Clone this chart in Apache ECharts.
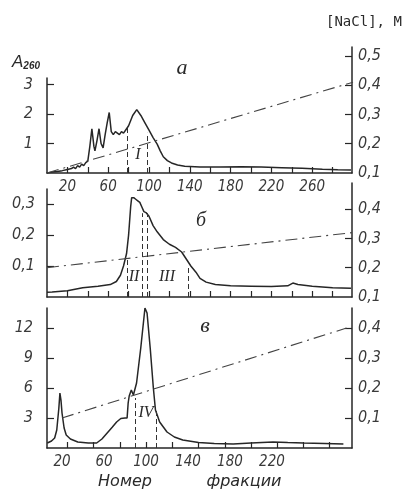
<!DOCTYPE html>
<html><head><meta charset="utf-8">
<script src="https://cdn.jsdelivr.net/npm/echarts@6/dist/echarts.min.js"></script>
<style>html,body{margin:0;padding:0;background:#fff}#c{width:412px;height:494px}</style>
</head><body><div id="c"></div><script>
// ---- Panel а ----
const fracA = [0,5,10,15,20,24,26,28,30,32,34,36,38,40,42,44,46,47,49,51,53,55,57,59,61,63,65,67,69,71,73,75,77,80,84,88,92,96,100,104,108,111,114,118,122,128,135,150,170,190,210,230,250,270,285,298];
const a260A = [0,0.03,0.05,0.08,0.12,0.15,0.2,0.15,0.25,0.2,0.3,0.25,0.35,0.4,0.9,1.5,0.9,0.75,1.1,1.5,1.0,0.85,1.3,1.7,2.05,1.4,1.3,1.4,1.35,1.3,1.4,1.35,1.45,1.6,1.95,2.15,1.95,1.7,1.45,1.2,0.98,0.75,0.55,0.42,0.34,0.27,0.23,0.2,0.2,0.21,0.2,0.18,0.16,0.13,0.11,0.1];
const gradFracA = [0,300];
const naclA = [0.1,0.41];
const cutFracA = [79,98];
const cutTopA = [1.55,1.36];
// ---- Panel б ----
const fracB = [0,5,20,35,50,62,68,72,75,78,80,82,83,85,87,89,91,93,95,97,100,104,108,114,120,126,132,137,141,146,150,156,165,180,200,220,236,241,246,260,280,298];
const a260B = [0.015,0.016,0.02,0.03,0.035,0.04,0.05,0.07,0.1,0.14,0.2,0.29,0.32,0.32,0.315,0.31,0.305,0.29,0.275,0.272,0.26,0.23,0.21,0.185,0.17,0.16,0.145,0.12,0.1,0.08,0.06,0.048,0.04,0.036,0.035,0.034,0.036,0.045,0.04,0.035,0.03,0.028];
const gradFracB = [0,300];
const naclB = [0.2,0.32];
const cutFracB = [79,93.5,98.5,138.5];
const cutTopB = [0.12,0.27,0.27,0.1];
// ---- Panel в ----
const fracC = [6,10,13,15,17,18,19,20,22,24,28,35,45,53,58,63,68,72,76,80,82,83,84,86,88,89,91,95,99,101,104,107,109,113,120,127,135,150,165,183,200,221,235,250,270,288];
const a260C = [0.5,0.7,1.0,1.8,4.0,5.5,4.8,3.5,2.0,1.3,0.9,0.6,0.5,0.5,0.9,1.5,2.1,2.6,2.95,3.0,3.0,4.5,5.2,5.8,5.3,5.4,6.5,10,14.0,13.5,10,6,3.8,2.6,1.6,1.1,0.8,0.55,0.45,0.4,0.5,0.6,0.55,0.5,0.45,0.4];
const gradFracC = [20,291];
const naclC = [0.1,0.4];
const cutFracC = [89.5,109.5];
const cutTopC = [5.0,3.8];
// ---- tick labels ----
const xLabelsAB = [20,60,100,140,180,220,260];
const xTicksAB = [20,40,60,80,100,120,140,160,180,200,220,240,260,280];
const xLabelsC = [20,60,100,140,180,220];
const xTicksC = [25,50,75,100,125,150,175,200,225,250,275];
const yLeftA = [1,2,3];
const yRightA = [0.1,0.2,0.3,0.4,0.5];
const yRightATicks = [0.2,0.3,0.4,0.5];
const yLeftB = [0.1,0.2,0.3];
const yRightB = [0.1,0.2,0.3,0.4];
const yRightBTicks = [0.2,0.3,0.4];
const yLeftC = [3,6,9,12];
const yRightC = [0.1,0.2,0.3,0.4];

const zip = (xs, ys) => xs.map((x, i) => [x, ys[i]]);
const INK = '#262626';
const LBL = {fontStyle:'italic', fontFamily:"'DejaVu Sans Condensed','Liberation Sans Narrow','Liberation Sans',sans-serif", fontSize:16, color:'#3a3a3a'};
const comma = v => String(v).replace('.', ',');

function grid(top, bottom) { return {left:47, right:60, top:top, bottom:bottom, containLabel:false}; }
function xAx(gi, min, max, labels, ticks, showLine) {
  return {type:'value', gridIndex:gi, min:min, max:max, show: showLine,
    axisLine:{show:true, onZero:false, lineStyle:{color:INK, width:1.5}},
    axisTick:{show:!!ticks, inside:true, length:6, customValues:ticks||[], lineStyle:{color:INK, width:1.2}},
    axisLabel:{show:!!labels, customValues:labels||[], margin:7, ...LBL, fontSize:15},
    splitLine:{show:false}};
}
function yAx(gi, pos, min, max, vals, tickVals, margin) {
  return {type:'value', gridIndex:gi, position:pos, min:min, max:max,
    axisLine:{show:true, onZero:false, lineStyle:{color:INK, width:1.5}},
    axisTick:{show:true, inside:true, length:7, customValues:tickVals||vals, lineStyle:{color:INK, width:1.2}},
    axisLabel:{show:true, customValues:vals, margin:margin, formatter:comma, ...LBL},
    splitLine:{show:false}};
}
function curve(xi, data, cutF, cutT) {
  return {type:'line', xAxisIndex:xi, yAxisIndex:xi, data:data, showSymbol:false, symbol:'none',
    lineStyle:{color:INK, width:1.5}, animation:false, silent:true,
    markLine:{symbol:'none', silent:true, animation:false, label:{show:false},
      lineStyle:{color:'#333', width:1, type:[5,3]},
      data: cutF.map((f, i) => [{coord:[f, 0]}, {coord:[f, cutT[i]]}])}};
}
function grad(xi, data) {
  return {type:'line', xAxisIndex:xi, yAxisIndex:xi, data:data, showSymbol:false, symbol:'none',
    lineStyle:{color:'#444', width:1.1, type:[12,5,2,5]}, animation:false, silent:true};
}
const serif = "'Liberation Serif','DejaVu Serif',serif";
function txt(x, y, text, size, fam, extra) {
  return {type:'text', x:x, y:y, style:{text:text, font:'italic ' + size + 'px ' + fam, fill:'#2a2a2a', textAlign:'center', textVerticalAlign:'middle', ...(extra||{})}};
}

const chart = echarts.init(document.getElementById('c'), null, {renderer:'canvas'});
chart.setOption({
  backgroundColor:'#fff',
  animation:false,
  grid:[grid(78,321), grid(47,321), grid(189,197), grid(183,197), grid(308,46), grid(308,46)],
  xAxis:[
    xAx(0,0,299,xLabelsAB,xTicksAB,true), xAx(1,0,299,null,null,false),
    xAx(2,0,299,null,xTicksAB,true), xAx(3,0,299,null,null,false),
    xAx(4,5.7,296.2,xLabelsC,xTicksC,true), xAx(5,5.7,296.2,null,null,false)
  ],
  yAxis:[
    yAx(0,'left',0,3.22,yLeftA,null,14), yAx(1,'right',0.1,0.53,yRightA,yRightATicks,6),
    yAx(2,'left',0,0.348,yLeftB,null,12), yAx(3,'right',0.1,0.489,yRightB,yRightBTicks,6),
    yAx(4,'left',0,14,yLeftC,null,14), yAx(5,'right',0,0.4667,yRightC,null,6)
  ],
  series:[
    curve(0, zip(fracA,a260A), cutFracA, cutTopA), grad(1, zip(gradFracA,naclA)),
    curve(2, zip(fracB,a260B), cutFracB, cutTopB), grad(3, zip(gradFracB,naclB)),
    curve(4, zip(fracC,a260C), cutFracC, cutTopC), grad(5, zip(gradFracC,naclC))
  ],
  graphic:[
    {type:'text', x:326, y:22, style:{text:'[NaCl], M', font:"14px 'DejaVu Sans Mono',monospace", fill:'#2a2a2a', textVerticalAlign:'middle'}},
    {type:'text', x:12, y:62, style:{text:'{a|A}{s|260}', textVerticalAlign:'middle',
      rich:{a:{fontSize:17, fontStyle:'italic', fontFamily:"'Liberation Sans',sans-serif", fill:'#2a2a2a'},
            s:{fontSize:10, fontStyle:'italic', fontWeight:'bold', fontFamily:"'Liberation Sans',sans-serif", fill:'#2a2a2a', padding:[8,0,0,0]}}}},
    txt(182, 68, 'а', 22, serif),
    txt(201, 221, 'б', 20, serif),
    txt(205, 326, 'в', 22, serif),
    txt(138, 155, 'I', 16, serif),
    txt(134, 277, 'II', 16, serif),
    txt(167, 277, 'III', 16, serif),
    txt(146, 413, 'IV', 16, serif),
    txt(125, 482, 'Номер', 16, "'DejaVu Sans','Liberation Sans',sans-serif"),
    txt(244, 482, 'фракции', 16, "'DejaVu Sans','Liberation Sans',sans-serif")
  ]
});
</script></body></html>
